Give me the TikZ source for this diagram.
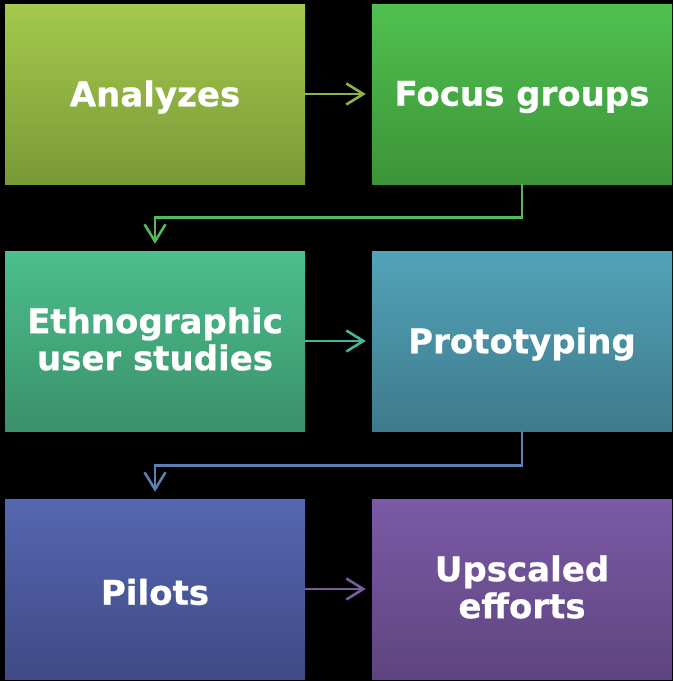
\documentclass[tikz,border=0pt]{standalone}
\usepackage{fontspec}
\setmainfont{DejaVu Sans}
\newfontfamily\boxfont[FakeBold=0.7]{DejaVu Sans Bold}
\usetikzlibrary{arrows.meta}
\definecolor{aT}{HTML}{A3C94C}\definecolor{aB}{HTML}{7A9937}
\definecolor{bT}{HTML}{50C050}\definecolor{bB}{HTML}{3C9438}
\definecolor{cT}{HTML}{4CBF8E}\definecolor{cB}{HTML}{3A906A}
\definecolor{dT}{HTML}{52A3B8}\definecolor{dB}{HTML}{3F7A8C}
\definecolor{eT}{HTML}{5567B0}\definecolor{eB}{HTML}{3F4A86}
\definecolor{fT}{HTML}{7B5AA6}\definecolor{fB}{HTML}{5E447F}
\definecolor{aL}{HTML}{8DB545}\definecolor{bL}{HTML}{55B85A}
\definecolor{cL}{HTML}{48B59A}\definecolor{dL}{HTML}{5A7FB0}
\definecolor{eL}{HTML}{7A5AA0}
\begin{document}
\begin{tikzpicture}[x=1pt,y=-1pt,
  box/.style={rectangle,minimum width=300pt,minimum height=180pt,inner sep=0pt},
  lbl/.style={text=white,align=center,inner sep=0pt,font=\boxfont\fontsize{34}{37}\selectfont},
  flow/.style={line width=2.6pt,-{Straight Barb[length=17pt,width=21pt,line width=2.6pt]}}]
\fill[black] (0,0) rectangle (673,681);
\useasboundingbox (0,0) rectangle (673,681);
\node[box,top color=aT,bottom color=aB] (a) at (155,94) {};
\node[box,top color=bT,bottom color=bB] (b) at (522,94) {};
\node[box,top color=cT,bottom color=cB] (c) at (155,341) {};
\node[box,top color=dT,bottom color=dB] (d) at (522,341) {};
\node[box,top color=eT,bottom color=eB] (e) at (155,589) {};
\node[box,top color=fT,bottom color=fB] (f) at (522,589) {};
\node[lbl,yshift=-3pt] (ta) at (a.center) {Analyzes};
\node[lbl,yshift=-3pt] (tb) at (b.center) {Focus groups};
\node[lbl,yshift=2pt] (tc) at (c.center) {Ethnographic\\user studies};
\node[lbl,yshift=-3pt] (td) at (d.center) {Prototyping};
\node[lbl,yshift=-3pt] (te) at (e.center) {Pilots};
\node[lbl,yshift=2pt] (tf) at (f.center) {Upscaled\\efforts};
\draw[flow,aL] (a.east) -- ([xshift=-6pt]b.west);
\draw[flow,bL] (b.south) -- ++(0,33) -| ([yshift=7pt]c.north);
\draw[flow,cL] (c.east) -- ([xshift=-6pt]d.west);
\draw[flow,dL] (d.south) -- ++(0,34) -| ([yshift=7pt]e.north);
\draw[flow,eL] (e.east) -- ([xshift=-6pt]f.west);
\end{tikzpicture}
\end{document}
